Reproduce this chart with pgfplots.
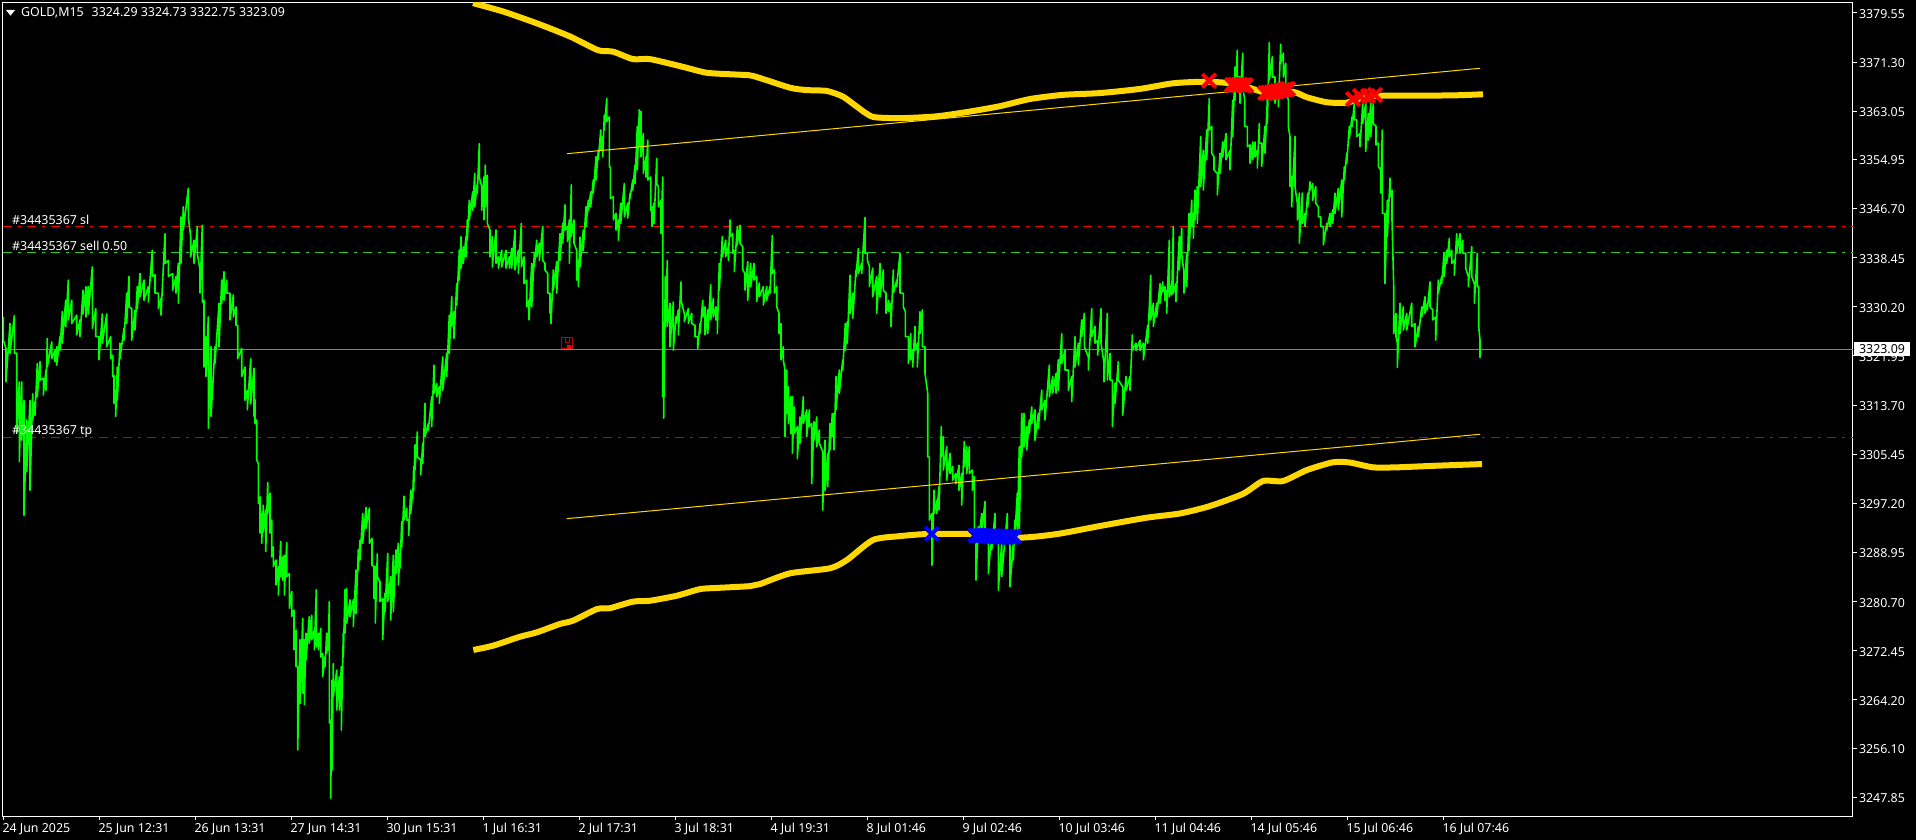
\documentclass[border=0pt]{standalone}
\usepackage{fontspec}
\setmainfont{Noto Sans}
\usepackage{pgfplots}
\pgfplotsset{compat=1.18}
\definecolor{gold}{HTML}{FFD700}
\definecolor{lvlgreen}{HTML}{20D020}
\definecolor{bidgray}{HTML}{808080}
\newcommand{\mtfont}{\fontsize{12.4}{14}\selectfont}
\begin{document}
\begin{tikzpicture}
\path[use as bounding box] (0,0) rectangle (1916pt,840pt);
\fill[black] (0,0) rectangle (1916pt,840pt);
\begin{axis}[
  at={(2.5pt,23.7pt)}, anchor=south west,
  scale only axis, width=1850.3pt, height=813.8pt,
  xmin=2.5, xmax=1852.8, ymin=3244.65, ymax=3381.31,
  axis line style={white,line width=1pt},
  tick style={white,line width=1pt},
  major tick length=4pt, tick align=outside,
  xtick pos=lower, ytick pos=right, xticklabel pos=lower, yticklabel pos=right,
  xtick={3.3,99.3,195.3,291.3,387.3,483.3,579.3,675.3,771.3,867.3,963.3,1059.3,1155.3,1251.3,1347.3,1443.3},
  xticklabels={24 Jun 2025,25 Jun 12:31,26 Jun 13:31,27 Jun 14:31,30 Jun 15:31,1 Jul 16:31,2 Jul 17:31,3 Jul 18:31,4 Jul 19:31,8 Jul 01:46,9 Jul 02:46,10 Jul 03:46,11 Jul 04:46,14 Jul 05:46,15 Jul 06:46,16 Jul 07:46},
  ytick={3379.55,3371.30,3363.05,3354.95,3346.70,3338.45,3330.20,3321.95,3313.70,3305.45,3297.20,3288.95,3280.70,3272.45,3264.20,3256.10,3247.85},
  yticklabels={3379.55,3371.30,3363.05,3354.95,3346.70,3338.45,3330.20,3321.95,3313.70,3305.45,3297.20,3288.95,3280.70,3272.45,3264.20,3256.10,3247.85},
  xticklabel style={font=\mtfont,text=white,anchor=base west,inner sep=0pt,xshift=-1pt,yshift=-12pt},
  yticklabel style={font=\mtfont,text=white,anchor=west,inner sep=0pt,xshift=2pt,yshift=-1pt},
  clip=true,
]
% order levels
\addplot[red,line width=1pt,dash pattern=on 9pt off 6pt on 3pt off 6pt] coordinates {(2.5,3343.73)(1852.8,3343.73)};
\addplot[lvlgreen,line width=1pt,dash pattern=on 9pt off 6pt on 3pt off 6pt] coordinates {(2.5,3339.36)(1852.8,3339.36)};
\addplot[red!85!black,line width=0.9pt,dash pattern=on 9pt off 6pt on 3pt off 6pt] coordinates {(2.5,3308.3)(1852.8,3308.3)};
\addplot[bidgray,line width=1.2pt] coordinates {(2.5,3323.09)(1852.8,3323.09)};
% price
\addplot[color=green,line width=1.6pt,line join=round] coordinates {
(3.3,3328.5)(3.3,3324.6)(6,3323.2)(6,3317.6)(10,3327.4)(10,3322.4)(14.3,3328.7)(14.3,3322.4)(16.7,3322.4)(16.7,3309)(19.3,3317.6)(19.3,3304.2)(21.7,3317.6)(21.7,3307.8)(24,3314.5)(24,3295.2)(26.7,3311.2)(26.7,3302.5)(30,3314.5)(30,3299.4)(32.7,3315.6)(32.7,3311.2)(35,3314.3)(35,3312)(37.3,3320.7)(37.3,3315.1)(40,3321)(40,3317.9)(43.3,3318.2)(43.3,3315.4)(46,3319.6)(46,3316.2)(47.3,3324.9)(47.3,3320.1)(51.7,3324.3)(51.7,3321.5)(55,3322.9)(55,3321)(56.7,3323.5)(56.7,3320.4)(60,3325.2)(60,3322.9)(62.3,3329.4)(62.3,3324.1)(65.7,3331.3)(65.7,3326.9)(68.3,3334.7)(68.3,3328)(71.7,3331.3)(71.7,3327.4)(76.7,3328.8)(76.7,3325.5)(80,3328)(80,3325.2)(83,3333)(83,3329)(86,3333.6)(86,3328.5)(88.3,3333.6)(88.3,3329)(92.3,3336.9)(92.3,3326.6)(95.7,3329.9)(95.7,3325.2)(99,3325.2)(99,3321.3)(102.3,3329)(102.3,3324.1)(106.7,3329)(106.7,3323.5)(110.7,3325.2)(110.7,3321.5)(112.7,3322.1)(112.7,3318.5)(114,3318.7)(114,3314)(115.7,3316.2)(115.7,3311.8)(117.3,3320.1)(117.3,3314.5)(120,3324.1)(120,3321.5)(124,3326.6)(124,3324.6)(126.7,3332.5)(126.7,3327.4)(129,3335.3)(129,3330.2)(131.7,3329.9)(131.7,3324.6)(135,3329.6)(135,3326.3)(137.3,3333.6)(137.3,3329.9)(140,3335.8)(140,3331.9)(144,3334.7)(144,3331.3)(148.3,3333.6)(148.3,3331)(152.3,3339.7)(152.3,3335.3)(155,3335.6)(155,3332.5)(158.3,3332.5)(158.3,3329.9)(161,3331.6)(161,3328.8)(165,3342.5)(165,3337.5)(168.3,3338)(168.3,3335.3)(172.7,3335.8)(172.7,3333)(176,3335.3)(176,3332.5)(178.3,3337.5)(178.3,3330.8)(181,3345.3)(181,3337.5)(183.3,3347)(183.3,3343.1)(188.3,3350.1)(188.3,3345.3)(190.7,3342)(190.7,3338.6)(194,3341.4)(194,3337.5)(197.3,3343.7)(197.3,3339.2)(200,3336.4)(200,3332.5)(202.3,3343.9)(202.3,3331)(204,3331.3)(204,3320.1)(206,3325.2)(206,3318.5)(208.3,3328.5)(208.3,3309.8)(211,3323.5)(211,3311.8)(215,3323.5)(215,3320.7)(219,3330.8)(219,3323.5)(221.7,3334.7)(221.7,3330.8)(224,3336.1)(224,3331.3)(226.7,3334.7)(226.7,3332.5)(230,3332.5)(230,3328)(233.3,3332.2)(233.3,3328.5)(236,3330.2)(236,3327.1)(237.7,3327.1)(237.7,3321.5)(241.7,3323.2)(241.7,3318.5)(245,3320.1)(245,3314.5)(247.3,3316.2)(247.3,3312.9)(250.7,3321.5)(250.7,3313.9)(254,3319.9)(254,3311.8)
(255,3314.6)(255,3310.6)(256.7,3311.2)(256.7,3304.5)(258.3,3303.9)(258.3,3297.2)(260,3298.3)(260,3292.2)(261.7,3295.5)(261.7,3290.5)(263.3,3296.9)(263.3,3292.4)(265.7,3296.1)(265.7,3289.1)(267.7,3300.7)(267.7,3295.5)(270,3298.9)(270,3292.2)(271.7,3294.4)(271.7,3288.2)(273.3,3289.9)(273.3,3286.6)(276,3287.7)(276,3283.5)(278.3,3286.6)(278.3,3281.8)(280.7,3290.8)(280.7,3284.9)(282.7,3288.2)(282.7,3284.3)(284.3,3288.5)(284.3,3281.8)(286.7,3290.6)(286.7,3284.9)(289.3,3285.4)(289.3,3279.6)(291.7,3282.4)(291.7,3278.2)(294,3279.3)(294,3272.6)(296,3275.9)(296,3269.8)(297.7,3269.8)(297.7,3255.8)(300,3274.3)(300,3263.6)(302.7,3277.9)(302.7,3265.3)(304.3,3274.3)(304.3,3263.4)(306,3275.4)(306,3270.9)(309.3,3278.2)(309.3,3273.7)(311.7,3278.4)(311.7,3274.3)(314.3,3275.9)(314.3,3272.6)(316.3,3282.7)(316.3,3273.1)(318.3,3275.4)(318.3,3272.6)(320.7,3276.2)(320.7,3271.4)(322.7,3272)(322.7,3268.1)(325,3271.4)(325,3269.8)(326.7,3275.4)(326.7,3272)(328.3,3275.4)(328.3,3272.6)(329.3,3280.7)(329.3,3260.3)(330.7,3260.8)(330.7,3247.7)(332,3267.5)(332,3252.4)(333.3,3270.3)(333.3,3264.7)(336.7,3269.2)(336.7,3262.5)(339.3,3268.1)(339.3,3262.5)(341.3,3269.8)(341.3,3259.1)(343.3,3275.4)(343.3,3271.4)(345,3282.7)(345,3275.4)(346.7,3282.9)(346.7,3277.1)(350,3281)(350,3278.2)(353.3,3281)(353.3,3276.5)(356,3286)(356,3278.7)(358.3,3289.4)(358.3,3286)
(360,3291)(360,3287.7)(362.7,3295.5)(362.7,3290.5)(366,3296.5)(366,3293)(369.3,3296.4)(369.3,3290.5)(372,3291.3)(372,3286.8)(374,3286.6)(374,3281.2)(375.3,3286.6)(375.3,3277.1)(377.3,3288.7)(377.3,3284.9)(380,3284)(380,3280.7)(382.7,3281.2)(382.7,3274.3)(385,3282.1)(385,3279)(387.7,3288.8)(387.7,3280.7)(390.7,3284.9)(390.7,3277.6)(393.3,3288.5)(393.3,3279)(396,3289.4)(396,3285.4)(398.3,3290.5)(398.3,3283.5)(400,3288.8)(400,3286.3)(401.7,3294.1)(401.7,3289.9)(404,3298.4)(404,3294.4)(406.7,3296.4)(406.7,3294.4)(408.7,3294.4)(408.7,3291.8)(410.7,3299.4)(410.7,3295.5)(412.7,3299.2)(412.7,3298)(413.7,3303.4)(413.7,3299.4)(415,3307)(415,3302.8)(417.3,3309.2)(417.3,3305)(420.7,3304.5)(420.7,3302)(422.7,3307.3)(422.7,3303.9)
(425,3314)(425,3308.4)(428.3,3310.6)(428.3,3309.5)(431.7,3315.1)(431.7,3310.1)(434,3320.4)(434,3315.7)(436.7,3317.3)(436.7,3315.1)(439.3,3316.8)(439.3,3314)(442.7,3321.8)(442.7,3316.2)(446.7,3322.4)(446.7,3318.5)(449.3,3328.8)(449.3,3322.4)(451.7,3331.9)(451.7,3326.9)(454,3329.4)(454,3324.9)(456.7,3334.1)(456.7,3330.5)(459.3,3339.7)(459.3,3334.7)(461,3342)(461,3336.7)(463.3,3340.3)(463.3,3337.5)(466,3342)(466,3338.6)(467.3,3344.8)(467.3,3341.4)(469.3,3348.1)(469.3,3344.8)(472.7,3349.5)(472.7,3346.4)(474.7,3352.6)(474.7,3347)(477.3,3350.9)(477.3,3349.3)(479.3,3357.6)(479.3,3352)(481.7,3350.4)(481.7,3346.4)(484,3352)(484,3344.8)(485.3,3354)(485.3,3347)(487.3,3352.3)(487.3,3344.2)(490,3343.1)(490,3338.6)(492.3,3342)(492.3,3336.9)(496,3343.1)(496,3337.5)(498.3,3338.6)(498.3,3336.7)(501.7,3339.7)(501.7,3336.9)(506,3339.7)(506,3336.7)(509.3,3338.6)(509.3,3336.7)(511.7,3340)(511.7,3336.7)(515,3343.1)(515,3336.4)(518.3,3339.7)(518.3,3335.8)(521.3,3344.2)(521.3,3336.9)(524,3338.6)(524,3334.1)(526.7,3334.7)(526.7,3330.2)(529,3331.3)(529,3328)(531.7,3337.5)(531.7,3330.2)(534.3,3339.2)(534.3,3336.9)(536.7,3341.4)(536.7,3338.6)(539.3,3340.9)(539.3,3338)(542.7,3343.7)(542.7,3338)(545,3337.5)(545,3336.4)(547.7,3335.8)(547.7,3332.5)(550,3332.5)(550,3329.1)(551,3330.8)(551,3327.4)(553.3,3336.4)(553.3,3333)(556.7,3337.8)(556.7,3332.5)(560,3342.5)(560,3338)(562.7,3344.2)(562.7,3340.9)(565,3347.3)(565,3343.1)(567.3,3343.7)(567.3,3341.2)(569.3,3344.8)(569.3,3337.5)(571.3,3350.7)(571.3,3342)(574,3344.8)(574,3340.9)(576.7,3339.7)(576.7,3334.7)(578.3,3338)(578.3,3333.6)(580,3341.9)(580,3336.9)(583.3,3343.1)(583.3,3339.7)(586,3347)(586,3343.7)(588.3,3348.1)(588.3,3346.4)(590.7,3349.5)(590.7,3347)(593.3,3351.5)(593.3,3349.3)(596,3355.4)(596,3351.5)(598.3,3356.5)(598.3,3354.9)(600.7,3359.9)(600.7,3356.5)(602.7,3358.8)(602.7,3355.4)(604.3,3362.4)(604.3,3359.9)(606.7,3365.2)(606.7,3361.3)(609.3,3362.1)(609.3,3353.7)(610.3,3353.7)(610.3,3348.4)(613.3,3348.7)(613.3,3344.8)(616,3345.9)(616,3343.1)(618.3,3344.8)(618.3,3341.4)(620.7,3347.6)(620.7,3344.2)(624.3,3350.9)(624.3,3345.3)(627.7,3347.6)(627.7,3345.1)(630,3349.3)(630,3348.4)(632.7,3351.5)(632.7,3349.8)(635,3354)(635,3350.9)(637.3,3360.5)(637.3,3353.2)(639.3,3363.3)(639.3,3357.1)(641,3363)(641,3355.4)(643.3,3359.3)(643.3,3352.6)(646,3355.4)(646,3352)(647.7,3358.2)(647.7,3351.5)(650.7,3352)(650.7,3346.4)(652,3347)(652,3343.7)(654,3347.6)(654,3344.2)(656.7,3355.1)(656.7,3350.9)(658.3,3350.4)(658.3,3347)(661,3348.1)(661,3342.5)(662.7,3352)(662.7,3315.1)(663.7,3325.7)(663.7,3311.5)(665.3,3335.3)(665.3,3326.9)(667.3,3338)(667.3,3326.9)(670,3330.8)(670,3323.5)(673.3,3331)(673.3,3322.9)(676,3328.5)(676,3327.4)(678.3,3329.7)(678.3,3325.5)(681,3334.4)(681,3331.3)(684.3,3329.1)(684.3,3327.7)(688.3,3329.9)(688.3,3327.4)(691.7,3329.1)(691.7,3327.4)(695,3327.1)(695,3325.2)(697.7,3325.2)(697.7,3323.2)(700,3327.4)(700,3325.7)(702.7,3331.3)(702.7,3328.5)(705,3330.2)(705,3325.5)(707.7,3329.7)(707.7,3325.7)(710.7,3333.9)(710.7,3328)(713.3,3331.6)(713.3,3328.5)(716,3330.2)(716,3328)(717.3,3329.1)(717.3,3325.7)(719.3,3337.5)(719.3,3333)(722.3,3342)(722.3,3338.6)(725.7,3341.4)(725.7,3338.6)(728.3,3340.3)(728.3,3338)(730,3344.8)(730,3342)(732.7,3342.5)(732.7,3339.2)(734.3,3339.7)(734.3,3336.1)(737.3,3343.7)(737.3,3340.6)(740,3343.9)(740,3340.9)(742.7,3340.3)(742.7,3336.4)(745,3335.8)(745,3333)(747.7,3337.8)(747.7,3331.3)(750.7,3337.5)(750.7,3333.6)(754,3337.5)(754,3334.7)(756.7,3335.3)(756.7,3331.1)(759.3,3334.2)(759.3,3331.9)(763.3,3333.6)(763.3,3330.5)(766.7,3333.6)(766.7,3331.3)(770,3333.6)(770,3332.5)(772.3,3342.2)(772.3,3335.8)(774.3,3336.4)(774.3,3332.5)(776.7,3333.6)(776.7,3330.2)(779,3329.1)(779,3325.7)
(781,3327.4)(781,3321.3)(783.3,3323.5)(783.3,3321.3)(785,3319.6)(785,3308.4)(786.7,3319.6)(786.7,3312.3)(788.3,3316.8)(788.3,3310.6)(790.7,3315.1)(790.7,3308.9)(792.3,3315.1)(792.3,3305.6)(794.3,3313.4)(794.3,3308.9)(797.3,3310.1)(797.3,3304.7)(800,3311.7)(800,3307.3)(803.3,3315.1)(803.3,3310.6)(806.7,3312.9)(806.7,3308.4)(809.3,3312.9)(809.3,3310.1)(811.7,3310.6)(811.7,3300.5)(814,3310.9)(814,3307.8)(816.7,3311.7)(816.7,3306.7)(819.3,3309.5)(819.3,3307.3)(822.7,3305.9)(822.7,3296.1)(825,3307.8)(825,3299.4)(827.7,3305.6)(827.7,3300)(830,3310.6)(830,3306.2)(832.3,3312.3)(832.3,3308.4)(834,3312.3)(834,3306.2)(836,3318.5)(836,3312.9)(839.3,3319.6)(839.3,3315.7)(842.7,3321.3)(842.7,3319.6)(845.3,3327.4)(845.3,3322.9)(847.3,3327.7)(847.3,3324.1)(850,3335.5)(850,3329.1)(852.7,3332.5)(852.7,3328.3)(856,3336.4)(856,3335.3)(858.3,3340)(858.3,3335.8)(861.7,3337.5)(861.7,3335.8)(865,3345.2)(865,3339.2)(867.3,3339.2)(867.3,3338.1)(869.3,3337)(869.3,3333.6)(872.7,3336.7)(872.7,3331.9)(876.7,3335.3)(876.7,3329.1)(880,3337.5)(880,3331.9)(883.3,3336.4)(883.3,3333)(886,3332.5)(886,3329.1)(888.7,3331.3)(888.7,3329.4)(891,3330.8)(891,3326.9)(893.3,3336.4)(893.3,3332.5)(896.7,3334.7)(896.7,3333.6)(900,3339.2)(900,3332.5)(903.3,3332.5)(903.3,3330.2)(905.3,3329.4)(905.3,3325.2)(908.3,3325.2)(908.3,3320.7)(910.7,3325.7)(910.7,3321.3)(912.7,3322.9)(912.7,3320.1)(915,3326.9)(915,3322.9)(917.3,3324.1)(917.3,3320.1)(920,3329.4)(920,3325.7)(922.3,3329.7)(922.3,3323.5)(925,3323.5)(925,3319)(927.7,3315.7)(927.7,3305)(929.3,3305)(929.3,3294.4)(932,3295.5)(932,3286.8)(934,3299.4)(934,3295.5)(936.7,3297.7)(936.7,3295.5)(939,3300)(939,3296.1)(941.3,3310.1)(941.3,3305)(943.3,3308.4)(943.3,3302.8)(946.7,3306.7)(946.7,3301.1)(950,3305.6)(950,3302.2)(952.7,3303.4)(952.7,3301.1)(955.7,3302.2)(955.7,3300.5)(959,3303.6)(959,3299.4)(961.7,3302.2)(961.7,3296.9)(964.3,3307.6)(964.3,3303.4)(966.7,3306.7)(966.7,3302.2)(969.3,3306.7)(969.3,3302.2)(972.3,3302.8)(972.3,3299.4)(974.3,3301.7)(974.3,3292.2)(976,3290.5)(976,3284.3)(978.3,3293.3)(978.3,3290.5)(981.7,3295.5)(981.7,3292.2)(985,3297.5)(985,3292.7)(988.3,3290.5)(988.3,3285.4)(991.7,3292.2)(991.7,3289.4)(995,3295.5)(995,3292.7)(998.3,3290.5)(998.3,3282.6)(1001.7,3290.5)(1001.7,3284.9)(1007.3,3295.5)(1007.3,3292.7)(1010,3290.5)(1010,3283.2)(1013.3,3290.5)(1013.3,3287.7)(1015,3294.4)(1015,3292.2)(1017.3,3298.9)(1017.3,3292.2)(1019.3,3306.7)(1019.3,3292.7)(1021.7,3312.3)(1021.7,3305)(1024,3312.3)(1024,3306.7)(1026.7,3310.1)(1026.7,3306.2)(1029.3,3311.2)(1029.3,3309)(1031.7,3313.4)(1031.7,3310.6)(1035,3312.9)(1035,3307.8)(1038.3,3312.3)(1038.3,3309.8)(1041.7,3316.2)(1041.7,3312.9)(1045,3314.5)(1045,3311.2)(1049.3,3320.4)(1049.3,3315.1)(1052.7,3318.5)(1052.7,3315.7)(1056,3319)(1056,3315.7)(1058.3,3321.3)(1058.3,3316.2)(1061.7,3325.7)(1061.7,3320.7)(1065,3322.9)(1065,3319.6)(1068.3,3319.6)(1068.3,3316.2)(1071.7,3318.5)(1071.7,3314.3)(1075,3325.2)(1075,3320.1)(1078.3,3324.1)(1078.3,3320.4)(1081.7,3328)(1081.7,3325.2)(1084.3,3329.1)(1084.3,3323.5)(1088.3,3321.8)(1088.3,3319.6)(1091.7,3329.9)(1091.7,3325.2)(1095,3326.9)(1095,3324.1)(1097.7,3324.6)(1097.7,3322.1)(1101,3329.9)(1101,3324.1)(1104,3320.7)(1104,3317.6)(1107.3,3329.1)(1107.3,3317.9)(1110,3322.4)(1110,3317.9)(1112.3,3317.9)(1112.3,3310.1)(1115,3317.4)(1115,3314)(1118.3,3321)(1118.3,3317.9)(1122.7,3316.8)(1122.7,3312)(1126,3318.5)(1126,3316.2)(1130,3318.5)(1130,3316.2)(1132.3,3325.5)(1132.3,3322.9)(1136,3324.1)(1136,3322.9)(1140,3324.6)(1140,3322.9)(1143.3,3324.1)(1143.3,3321.3)(1147.7,3327.1)(1147.7,3324.1)(1150.7,3335.5)(1150.7,3328)(1153.3,3330.8)(1153.3,3326.9)(1156.7,3330.8)(1156.7,3328.5)(1160,3334.1)(1160,3330.8)
(1162.7,3334.4)(1162.7,3332.7)(1165,3333.6)(1165,3331.3)(1166.7,3333)(1166.7,3329.1)(1169.3,3341.4)(1169.3,3331.9)(1171.7,3334.1)(1171.7,3332.2)(1173.3,3343.7)(1173.3,3332.5)(1176,3334.1)(1176,3331.1)(1179.3,3342)(1179.3,3336.4)(1181.7,3343.4)(1181.7,3339.2)(1184,3335.8)(1184,3332.5)(1186.7,3339.2)(1186.7,3333.6)(1189,3345.9)(1189,3339.7)(1191.7,3348.1)(1191.7,3343.7)(1193.3,3345.9)(1193.3,3341.7)(1195,3349.8)(1195,3344.8)(1197.3,3350.4)(1197.3,3344.2)(1200.7,3358.8)(1200.7,3350.4)(1203.3,3356.5)(1203.3,3349.8)(1206.7,3359.9)(1206.7,3354.9)(1209.3,3365.2)(1209.3,3359.9)(1211.7,3360.5)(1211.7,3356)(1214,3355.4)(1214,3353.2)(1217.3,3352.6)(1217.3,3349)(1220,3356)(1220,3352.6)(1222.7,3357.9)(1222.7,3355.4)(1226,3359.3)(1226,3354.9)(1230,3356.5)(1230,3353.2)(1232.7,3364.9)(1232.7,3358.8)(1235,3370.5)(1235,3364.9)(1237.3,3373.3)(1237.3,3368.8)(1240,3368.8)(1240,3364.4)(1242.7,3372.8)(1242.7,3367.2)(1244.7,3364.9)(1244.7,3360.5)(1247.3,3360.5)(1247.3,3357.1)(1250,3357.4)(1250,3354.3)(1252.7,3357.9)(1252.7,3354.9)(1255,3357.9)(1255,3355.4)(1257.3,3356.5)(1257.3,3353.5)(1259.3,3361)(1259.3,3357.7)(1261.7,3357.7)(1261.7,3353.8)(1265,3360.5)(1265,3356)(1267.3,3364.9)(1267.3,3361)(1269.3,3374.6)(1269.3,3368.3)(1272.3,3372.2)(1272.3,3368.8)(1275,3368.8)(1275,3364.4)(1278.3,3367.2)(1278.3,3363.8)(1280.7,3374.3)(1280.7,3371.1)(1283.3,3372.8)(1283.3,3368.8)(1285.7,3371.1)(1285.7,3367.2)(1288.3,3364.9)(1288.3,3360.5)(1290,3358.8)(1290,3350.4)(1291.7,3352.1)(1291.7,3347)(1295,3358.8)(1295,3350.4)(1297.3,3347.6)(1297.3,3344.8)(1299.3,3349.3)(1299.3,3340.9)(1302.3,3349.3)(1302.3,3344.2)(1305,3345.9)(1305,3343.7)(1307.7,3349.3)(1307.7,3347)(1310,3351.2)(1310,3349.8)(1312.7,3350.9)(1312.7,3348.1)(1315.7,3350.4)(1315.7,3347.6)(1318.3,3347)(1318.3,3345.3)(1320.7,3345.3)(1320.7,3343.7)(1323.3,3343.7)(1323.3,3340.6)(1326.7,3344.2)(1326.7,3343.1)(1330,3345.9)(1330,3343.7)(1332.7,3346.5)(1332.7,3344.2)(1335,3349.3)(1335,3345.9)(1338.3,3350.1)(1338.3,3346.5)(1341.7,3351.5)(1341.7,3345.3)(1344.3,3353.7)(1344.3,3351.5)(1346.7,3356)(1346.7,3354.3)(1349.3,3360.5)(1349.3,3358.5)(1352,3362.1)(1352,3360.5)(1354.3,3364.4)(1354.3,3361.6)(1356.7,3361.6)(1356.7,3358.8)(1360,3359.3)(1360,3357.1)(1362.7,3364.4)(1362.7,3361)(1365.7,3364.4)(1365.7,3356.3)(1368.3,3362.7)(1368.3,3358.2)(1370.7,3364.4)(1370.7,3358.8)(1373.3,3364.4)(1373.3,3361)(1376,3360.5)(1376,3357.4)(1378.3,3357.7)(1378.3,3353.8)(1380.7,3353.2)(1380.7,3349.3)(1382.3,3359.9)(1382.3,3345.9)(1385,3345.9)(1385,3334.1)(1387.3,3348.1)(1387.3,3342)(1390,3351.8)(1390,3348.7)(1392,3349.8)(1392,3344.8)(1393.7,3333.6)(1393.7,3325.7)(1396,3329.1)(1396,3325.2)(1397.3,3324.1)(1397.3,3320)(1400,3330.8)(1400,3325.7)(1403.3,3330.2)(1403.3,3326.3)(1406.7,3329.1)(1406.7,3326.3)(1411.7,3330.8)(1411.7,3326.9)(1415,3327.4)(1415,3323.5)(1418.3,3326.9)(1418.3,3325.2)(1421.7,3330.2)(1421.7,3328.5)(1425,3331.9)(1425,3329.1)(1427.3,3330.8)(1427.3,3329.7)(1430,3334.4)(1430,3330.2)(1432.7,3329.7)(1432.7,3328)(1435.7,3328.5)(1435.7,3324.6)(1438.3,3334.7)(1438.3,3332.5)(1441.7,3335.3)(1441.7,3334.1)(1444,3339.2)(1444,3335.3)(1446.7,3339.7)(1446.7,3337.5)(1449.3,3341.7)(1449.3,3338.6)(1451.7,3339.7)(1451.7,3337.5)(1454.3,3338)(1454.3,3335.5)(1456.7,3342.5)(1456.7,3339.2)(1460,3342.5)(1460,3339.2)(1462.7,3341.4)(1462.7,3339.2)(1465.7,3339.2)(1465.7,3336.7)(1468.3,3335.3)(1468.3,3333.6)(1471.7,3340.3)(1471.7,3335.3)(1474.3,3334.1)(1474.3,3330.8)(1477.3,3339.2)(1477.3,3333.6)(1478.7,3333.6)(1478.7,3326.9)(1480,3324.6)(1480,3321.7)(1480.5,3323.09)
};
% indicator curves
\addplot[gold,line width=6pt,line join=round,smooth,tension=0.4] coordinates {(473,3381.2)(503,3379.8)(537,3377.8)(570,3375.6)(598,3373.3)(613,3373.05)(633,3371.8)(650,3371.8)(683,3370.5)(707,3369.5)(737,3369.2)(753,3368.97)(790,3367)(807,3366.6)(827,3366.45)(843,3365.5)(857,3363.8)(873,3362.1)(903,3361.9)(937,3362.2)(970,3363)(1000,3363.9)(1030,3365.1)(1063,3365.8)(1100,3366.1)(1140,3366.8)(1173,3367.74)(1203,3368)(1227,3367.8)(1250,3366.95)(1267,3366.1)(1293,3366.3)(1307,3365.39)(1327,3364.55)(1347,3364.5)(1373,3365.6)(1450,3365.7)(1483,3365.9)};
\addplot[gold,line width=6pt,line join=round,smooth,tension=0.4] coordinates {(473.3,3272.58)(493,3273.3)(520,3274.8)(537,3275.55)(560,3276.95)(573,3277.5)(597,3279.45)(610,3279.6)(633,3280.7)(650,3280.85)(677,3281.7)(700,3282.8)(717,3283)(750,3283.3)(760,3283.65)(790,3285.45)(830,3286.3)(847,3287.7)(873,3291.05)(900,3291.7)(927,3292.05)(970,3292.05)(1020,3291.45)(1057,3292.05)(1100,3293.4)(1147,3294.8)(1180,3295.5)(1210,3296.75)(1243,3298.8)(1263,3300.95)(1283,3300.95)(1307,3302.8)(1333,3304.1)(1350,3304.05)(1373,3303.25)(1397,3303.25)(1433,3303.5)(1482,3303.8)};
% signals
\addplot[only marks,mark=x,mark size=9.5pt,color=red,mark options={line width=4pt}] coordinates {(1209,3368.18)(1232,3367.5)(1235,3367.5)(1238,3367.5)(1241,3367.5)(1244,3367.4)(1246,3367.4)(1265,3366.1)(1268,3366.15)(1271,3366.2)(1274,3366.3)(1277,3366.4)(1280,3366.5)(1283,3366.6)(1286,3366.7)(1288,3366.8)(1353,3365.1)(1360,3365.6)(1368,3365.6)(1375,3365.8)};
\addplot[only marks,mark=x,mark size=9.5pt,color=blue,mark options={line width=4pt}] coordinates {(931.7,3292.06)(975,3291.8)(978,3291.8)(981,3291.8)(984,3291.75)(987,3291.7)(990,3291.7)(993,3291.7)(996,3291.65)(999,3291.6)(1002,3291.6)(1005,3291.6)(1008,3291.6)(1011,3291.6)(1014,3291.6)};
% trend lines
\addplot[gold,line width=1pt] coordinates {(567,3355.92)(1480,3370.26)};
\addplot[gold,line width=1pt] coordinates {(566.7,3294.63)(1480,3308.8)};
% saved-state icon
\addplot[only marks,mark=square,mark size=5.6pt,color=red!75!black,mark options={line width=1pt}] coordinates {(567.3,3324.13)};
\addplot[only marks,mark=square*,mark size=1.7pt,color=red] coordinates {(568.5,3323.5)};
\addplot[only marks,mark=square,mark size=2.2pt,color=red!75!black,mark options={line width=0.8pt}] coordinates {(567.3,3324.64)};
% labels
\node[anchor=west,inner sep=0pt,text=white,font=\mtfont] at (axis cs:12,3344.8) {\#34435367 sl};
\node[anchor=west,inner sep=0pt,text=white,font=\mtfont] at (axis cs:12,3340.4) {\#34435367 sell 0.50};
\node[anchor=west,inner sep=0pt,text=white,font=\mtfont] at (axis cs:12,3309.25) {\#34435367 tp};
\node[anchor=west,inner sep=0pt,text=white,font=\mtfont] at (axis cs:21,3379.55) {GOLD,M15\hspace{8pt}3324.29 3324.73 3322.75 3323.09};
\fill[white] (axis cs:6,3380.05) -- (axis cs:15,3380.05) -- (axis cs:10.5,3379.1) -- cycle;
\coordinate (bid) at (axis cs:1882,3323.09);
\end{axis}
\node[fill=white,text=black,font=\mtfont,inner sep=0pt,minimum width=56pt,minimum height=14pt] at (bid) {3323.09};
\end{tikzpicture}
\end{document}
